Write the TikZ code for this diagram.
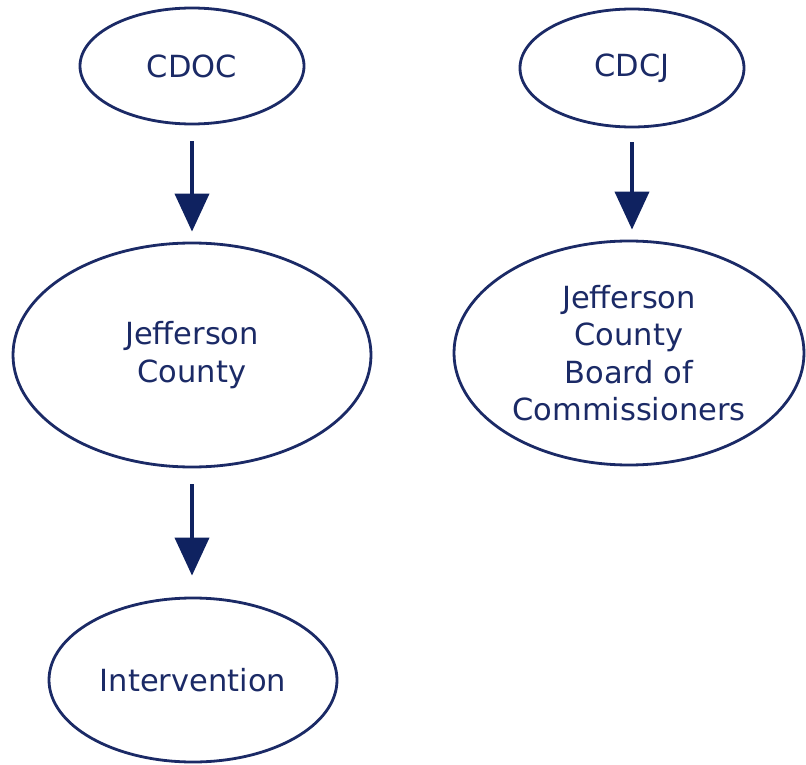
\documentclass[tikz,border=0pt]{standalone}
\usepackage{fontspec}
\setmainfont{DejaVu Sans}
\usetikzlibrary{shapes.geometric,arrows.meta}
\definecolor{navy}{HTML}{1B2A66}
\definecolor{arrowblue}{HTML}{0F2260}
\begin{document}
\begin{tikzpicture}[x=1pt,y=1pt,
  oval/.style={ellipse, draw=navy, line width=2.8pt, text=navy, inner sep=0pt, align=center,
    font=\fontsize{30.5}{37.5}\selectfont},
  flow/.style={draw=arrowblue, line width=4pt, -{Triangle[width=34pt,length=38pt]}}]
\useasboundingbox (0,0) rectangle (806,-765);
\node[oval, minimum width=224pt, minimum height=116pt] (cdoc) at (192,-66) {CDOC};
\node[oval, minimum width=224pt, minimum height=118pt] (cdcj) at (632,-68) {CDCJ};
\node[oval, minimum width=358pt, minimum height=224pt] (jc) at (192,-355) {Jefferson\\County};
\node[oval, minimum width=350pt, minimum height=224pt] (board) at (629,-353) {Jefferson\\County\\Board of\\Commissioners};
\node[oval, minimum width=288pt, minimum height=164pt] (int) at (193,-680) {Intervention};
\draw[flow, shorten <=16pt, shorten >=10pt] (cdoc) -- (jc);
\draw[flow, shorten <=14pt, shorten >=10pt] (cdcj.south) -- (cdcj.south |- board.north);
\draw[flow, shorten <=16pt, shorten >=21pt] (jc.south) -- (jc.south |- int.north);
\end{tikzpicture}
\end{document}
